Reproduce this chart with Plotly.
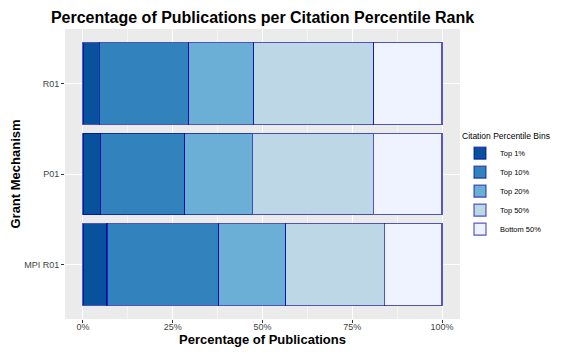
import plotly.graph_objects as go

grants = ["R01", "P01", "MPI R01"]
bins = ["Top 1%", "Top 10%", "Top 20%", "Top 50%", "Bottom 50%"]
top1 = [4.6, 4.9, 6.7]
top10 = [24.9, 23.4, 31.1]
top20 = [18.0, 18.9, 18.7]
top50 = [33.5, 33.6, 27.4]
bottom50 = [19.0, 19.2, 16.1]
x_ticks = [0, 25, 50, 75, 100]
x_tick_labels = ["0%", "25%", "50%", "75%", "100%"]

series = [top1, top10, top20, top50, bottom50]
colors = ["#08519c", "#3182bd", "#6baed6", "#bdd7e7", "#eff3ff"]

FONT = "Liberation Sans, Arial, sans-serif"
W, H = 562, 352  # page body has an 8px margin

fig = go.Figure()
for name, vals, col in zip(bins, series, colors):
    fig.add_trace(go.Bar(
        y=grants, x=vals, name=name, orientation="h",
        marker=dict(color=col, line=dict(color="rgba(0,0,165,0.65)", width=1.2)),
    ))

fig.update_layout(
    width=W, height=H,
    barmode="stack", bargap=0.1,
    paper_bgcolor="white", plot_bgcolor="#EBEBEB",
    margin=dict(l=57, r=110, t=21, b=41, autoexpand=False),
    font=dict(family=FONT, color="black"),
    title=dict(text="<b>Percentage of Publications per Citation Percentile Rank</b>",
               x=0.5, xref="paper", xanchor="center", yref="container",
               y=1 - 4 / H, yanchor="top",
               font=dict(size=16, family=FONT, color="black")),
    legend=dict(x=1.0, xanchor="left", y=0.66, yanchor="top",
                traceorder="normal", font=dict(size=7.5, family=FONT),
                title=dict(text="Citation Percentile Bins", font=dict(size=8.5, family=FONT)),
                tracegroupgap=0, itemwidth=30, bgcolor="rgba(0,0,0,0)"),
    showlegend=True,
)
fig.update_xaxes(
    range=[-5, 105], tickvals=x_ticks, ticktext=x_tick_labels,
    showgrid=True, gridcolor="white", gridwidth=1.1,
    minor=dict(dtick=12.5, tick0=0, showgrid=True, gridcolor="#F5F5F5", gridwidth=0.6),
    ticks="outside", ticklen=3, tickcolor="#333333", tickwidth=1,
    tickfont=dict(size=9, color="#444444"), zeroline=False, automargin=False,
    ticklabelstandoff=-4,
    title=dict(text="<b>Percentage of Publications</b>", font=dict(size=13), standoff=0),
)
fig.update_yaxes(
    categoryorder="array", categoryarray=list(reversed(grants)),
    range=[-0.6, 2.6],
    showgrid=True, gridcolor="white", gridwidth=1.1,
    ticks="outside", ticklen=3, tickcolor="#333333", tickwidth=1,
    tickfont=dict(size=9, color="#444444"), zeroline=False, automargin=False,
    ticklabelstandoff=0,
    title=dict(text="<b>Grant Mechanism</b>", font=dict(size=13), standoff=2),
)

fig.write_html("out.html")
